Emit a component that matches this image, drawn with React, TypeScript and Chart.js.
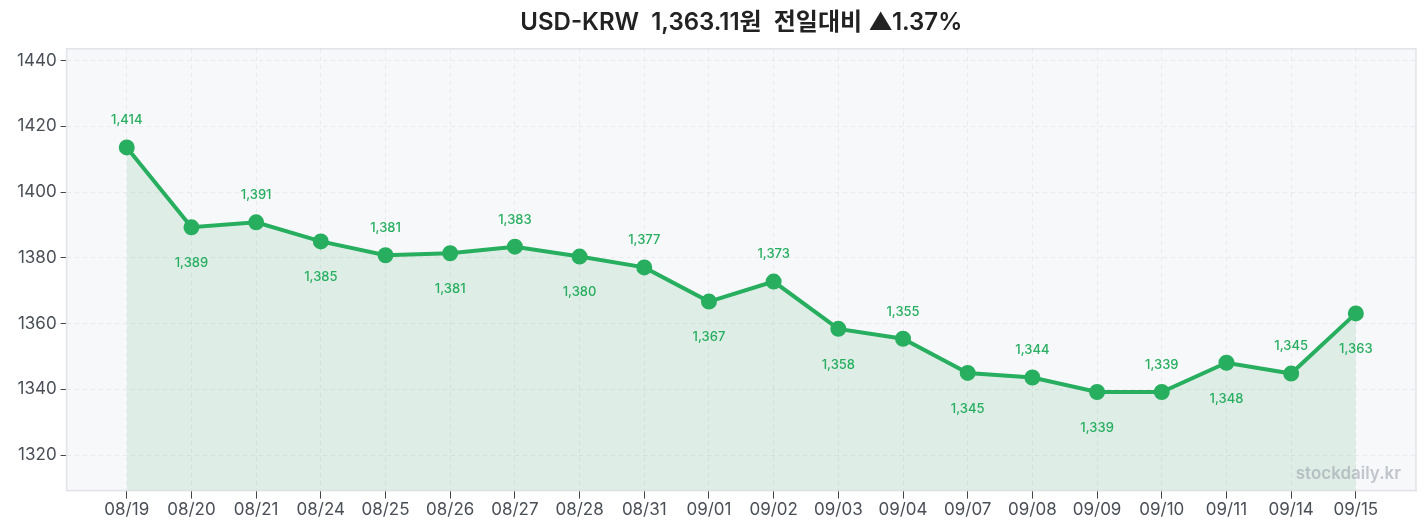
import { useEffect, useRef } from 'react';
import { Chart, ChartConfiguration, Plugin, registerables } from 'chart.js';

Chart.register(...registerables);

const dates = [
  '08/19', '08/20', '08/21', '08/24', '08/25', '08/26', '08/27', '08/28', '08/31', '09/01',
  '09/02', '09/03', '09/04', '09/07', '09/08', '09/09', '09/10', '09/11', '09/14', '09/15',
];
const rates = [
  1413.6, 1389.3, 1390.8, 1385.0, 1380.8, 1381.4, 1383.4, 1380.4, 1377.1, 1366.7,
  1372.8, 1358.4, 1355.4, 1345.0, 1343.6, 1339.2, 1339.2, 1348.1, 1344.8, 1363.11,
];
const yTicks = [1320, 1340, 1360, 1380, 1400, 1420, 1440];

const FONT = "Inter, 'Noto Sans CJK KR', sans-serif";
const GREEN = '#27ae5f';

// plot background, frame, value labels and the watermark
const decorations: Plugin<'line'> = {
  id: 'decorations',
  beforeDraw(chart) {
    const { ctx, chartArea: a } = chart;
    ctx.save();
    ctx.fillStyle = '#f7f8fa';
    ctx.fillRect(a.left, a.top, a.right - a.left, a.bottom - a.top);
    ctx.restore();
  },
  beforeDatasetsDraw(chart) {
    const { ctx, chartArea: a } = chart;
    ctx.save();
    ctx.strokeStyle = '#e1e3e8';
    ctx.lineWidth = 1.5;
    ctx.strokeRect(a.left, a.top, a.right - a.left, a.bottom - a.top);
    ctx.restore();
  },
  afterDatasetsDraw(chart) {
    const { ctx, chartArea: a } = chart;
    const meta = chart.getDatasetMeta(0);
    ctx.save();
    ctx.font = `500 13px ${FONT}`;
    ctx.fillStyle = GREEN;
    ctx.textAlign = 'center';
    ctx.textBaseline = 'middle';
    meta.data.forEach((pt, i) => {
      const label = Math.round(rates[i]).toLocaleString('en-US');
      const dy = i % 2 === 0 ? -27 : 36;
      ctx.fillText(label, pt.x, pt.y + dy);
    });
    ctx.font = `600 17px ${FONT}`;
    ctx.fillStyle = 'rgba(150, 155, 165, 0.55)';
    ctx.textAlign = 'right';
    ctx.textBaseline = 'alphabetic';
    ctx.fillText('stockdaily.kr', a.right - 15, a.bottom - 12);
    ctx.restore();
  },
};

export default function App() {
  const canvasRef = useRef<HTMLCanvasElement>(null);

  useEffect(() => {
    if (!canvasRef.current) return;
    const ctx = canvasRef.current.getContext('2d');
    if (!ctx) return;
    document.body.style.overflow = 'hidden';

    const config: ChartConfiguration<'line'> = {
      type: 'line',
      data: {
        datasets: [{
          data: rates.map((v, i) => ({ x: i, y: v })),
          borderColor: GREEN,
          backgroundColor: 'rgba(39, 174, 95, 0.12)',
          borderWidth: 4,
          pointRadius: 6,
          pointHoverRadius: 6,
          pointBackgroundColor: GREEN,
          pointBorderColor: GREEN,
          fill: 'start',
          tension: 0,
        }],
      },
      options: {
        responsive: true,
        maintainAspectRatio: false,
        animation: false,
        layout: { padding: { left: 5, right: 3, top: 0, bottom: 0 } },
        plugins: {
          legend: { display: false },
          tooltip: { enabled: false },
          title: {
            display: true,
            fullSize: false,
            text: 'USD-KRW  1,363.11원  전일대비 ▲1.37%',
            color: '#222222',
            font: { family: FONT, size: 24, weight: 600 },
            padding: { top: 0, bottom: 12 },
          },
        },
        scales: {
          x: {
            type: 'linear',
            min: -0.93,
            max: 19.93,
            afterFit: (scale) => {
              scale.paddingLeft = 0;
              scale.paddingRight = 0;
            },
            border: { display: true, color: '#e1e3e8', dash: [4, 4] },
            grid: {
              color: '#e8e9ed',
              tickColor: '#444',
              tickLength: 8,
              tickBorderDash: [],
            },
            ticks: {
              stepSize: 1,
              includeBounds: false,
              autoSkip: false,
              maxRotation: 0,
              color: '#4a4f57',
              padding: 1,
              font: { family: FONT, size: 17 },
              callback: (v) => dates[v as number] ?? '',
            },
          },
          y: {
            min: Math.min(...rates) - 30,
            max: Math.max(...rates) + 30,
            border: { display: true, color: '#e1e3e8', dash: [4, 4] },
            grid: {
              color: '#e8e9ed',
              tickColor: '#444',
              tickLength: 6,
              tickBorderDash: [],
            },
            afterBuildTicks: (scale) => {
              scale.ticks = yTicks.map((value) => ({ value }));
            },
            ticks: {
              color: '#4a4f57',
              padding: 4,
              font: { family: FONT, size: 17 },
              callback: (v) => String(v),
            },
          },
        },
      },
      plugins: [decorations],
    };

    const chart = new Chart(ctx, config);
    return () => chart.destroy();
  }, []);

  return (
    <div style={{ width: 'calc(100% + 7px)', height: 513, position: 'relative' }}>
      <canvas ref={canvasRef} />
    </div>
  );
}
